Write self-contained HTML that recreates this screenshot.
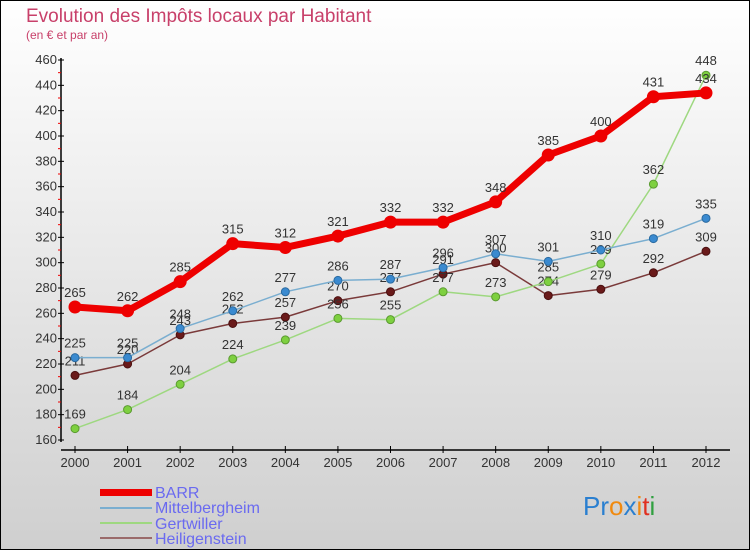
<!DOCTYPE html>
<html><head><meta charset="utf-8"><style>
body{margin:0}
svg{display:block;font-family:"Liberation Sans",sans-serif}
</style></head><body>
<svg width="750" height="550" xmlns="http://www.w3.org/2000/svg" id="chart">
<defs><linearGradient id="bg" x1="0" y1="0" x2="0" y2="1"><stop offset="0" stop-color="#ffffff"/><stop offset="1" stop-color="#cfcfcf"/></linearGradient></defs>
<rect x="0.5" y="0.5" width="749" height="549" fill="url(#bg)" stroke="#000"/>
<text x="26" y="22" font-size="19" fill="#c8406a">Evolution des Impôts locaux par Habitant</text>
<text x="26" y="39" font-size="12" fill="#c8406a">(en € et par an)</text>
<g id="axes"></g>
<g id="series"></g>
<g>
<rect x="100" y="489" width="52" height="7" fill="#e00"/>
<text x="155" y="498" font-size="16" fill="#6a6af0">BARR</text>
<line x1="100" y1="508" x2="152" y2="508" stroke="#7aaed0" stroke-width="2"/>
<text x="155" y="513" font-size="16" fill="#6a6af0">Mittelbergheim</text>
<line x1="100" y1="523" x2="152" y2="523" stroke="#9ed880" stroke-width="2"/>
<text x="155" y="529" font-size="16" fill="#6a6af0">Gertwiller</text>
<line x1="100" y1="538" x2="152" y2="538" stroke="#9a6a6a" stroke-width="2"/>
<text x="155" y="544" font-size="16" fill="#6a6af0">Heiligenstein</text>
</g>
<g font-size="26">
<text x="583" y="515"><tspan fill="#2a7fd0">Pr</tspan><tspan fill="#f08a10">o</tspan><tspan fill="#2a7fd0">x</tspan><tspan fill="#f08a10">i</tspan><tspan fill="#e03020">t</tspan><tspan fill="#30a040">i</tspan></text>
</g>
</svg>
<script>
const years=["2000","2001","2002","2003","2004","2005","2006","2007","2008","2009","2010","2011","2012"];
const barr=[265,262,285,315,312,321,332,332,348,385,400,431,434];
const mittel=[225,225,248,262,277,286,287,296,307,301,310,319,335];
const gert=[169,184,204,224,239,256,255,277,273,285,299,362,448];
const heil=[211,220,243,252,257,270,277,291,300,274,279,292,309];
const yTicks=[160,180,200,220,240,260,280,300,320,340,360,380,400,420,440,460];
const NS="http://www.w3.org/2000/svg";
const x=i=>75+i*(706-75)/12;
const y=v=>440-(v-160)*(380/300);
function mk(t,a,p){const e=document.createElementNS(NS,t);for(const k in a)e.setAttribute(k,a[k]);p.appendChild(e);return e;}
const ax=document.getElementById('axes');
const yl=mk('line',{x1:61,y1:58,x2:61,y2:442,stroke:'#000','stroke-width':1.5},ax);


const xl=mk('line',{x1:61,y1:450,x2:730,y2:450,stroke:'#000','stroke-width':1.5},ax);


yTicks.forEach((v,i)=>{
  mk('line',{x1:58,y1:y(v),x2:64,y2:y(v),stroke:'#000'},ax);
  if(i<yTicks.length-1)mk('line',{x1:58,y1:y(v+10),x2:61,y2:y(v+10),stroke:'#e00'},ax);
  const t=mk('text',{x:57,y:y(v)+4,'font-size':13,fill:'#333','text-anchor':'end'},ax);t.textContent=v;
  
  
});
years.forEach((yr,i)=>{
  mk('line',{x1:x(i),y1:446,x2:x(i),y2:453,stroke:'#000'},ax);
  const t=mk('text',{x:x(i),y:467,'font-size':13,fill:'#333','text-anchor':'middle'},ax);t.textContent=yr;
  
  
});
const sg=document.getElementById('series');
function series(vals,name,color,w,r,dot,stroke){
  const g=mk('g',{},sg);
  
  
  const p=mk('polyline',{points:vals.map((v,i)=>x(i)+','+y(v)).join(' '),fill:'none',stroke:color,'stroke-width':w,'stroke-linejoin':'round'},g);
  
  
  vals.forEach((v,i)=>{
    const c=mk('circle',{cx:x(i),cy:y(v),r:r,fill:dot,stroke:stroke,'stroke-width':1},g);
    
    
    const t=mk('text',{x:x(i),y:y(v)-10,'font-size':13,fill:'#333','text-anchor':'middle'},g);t.textContent=v;
    
    
  });
}
series(heil,'heiligenstein','#7a3a3a',1.5,4,'#6a1a1a','#4a1010');
series(gert,'gertwiller','#9ed880',1.5,4,'#7ed040','#5a9a30');
series(mittel,'mittelbergheim','#7aaed0',1.5,4,'#3a8ad0','#2a6aa0');
series(barr,'barr','#e00',7,6,'#e00','#e00');
</script>
</body></html>
